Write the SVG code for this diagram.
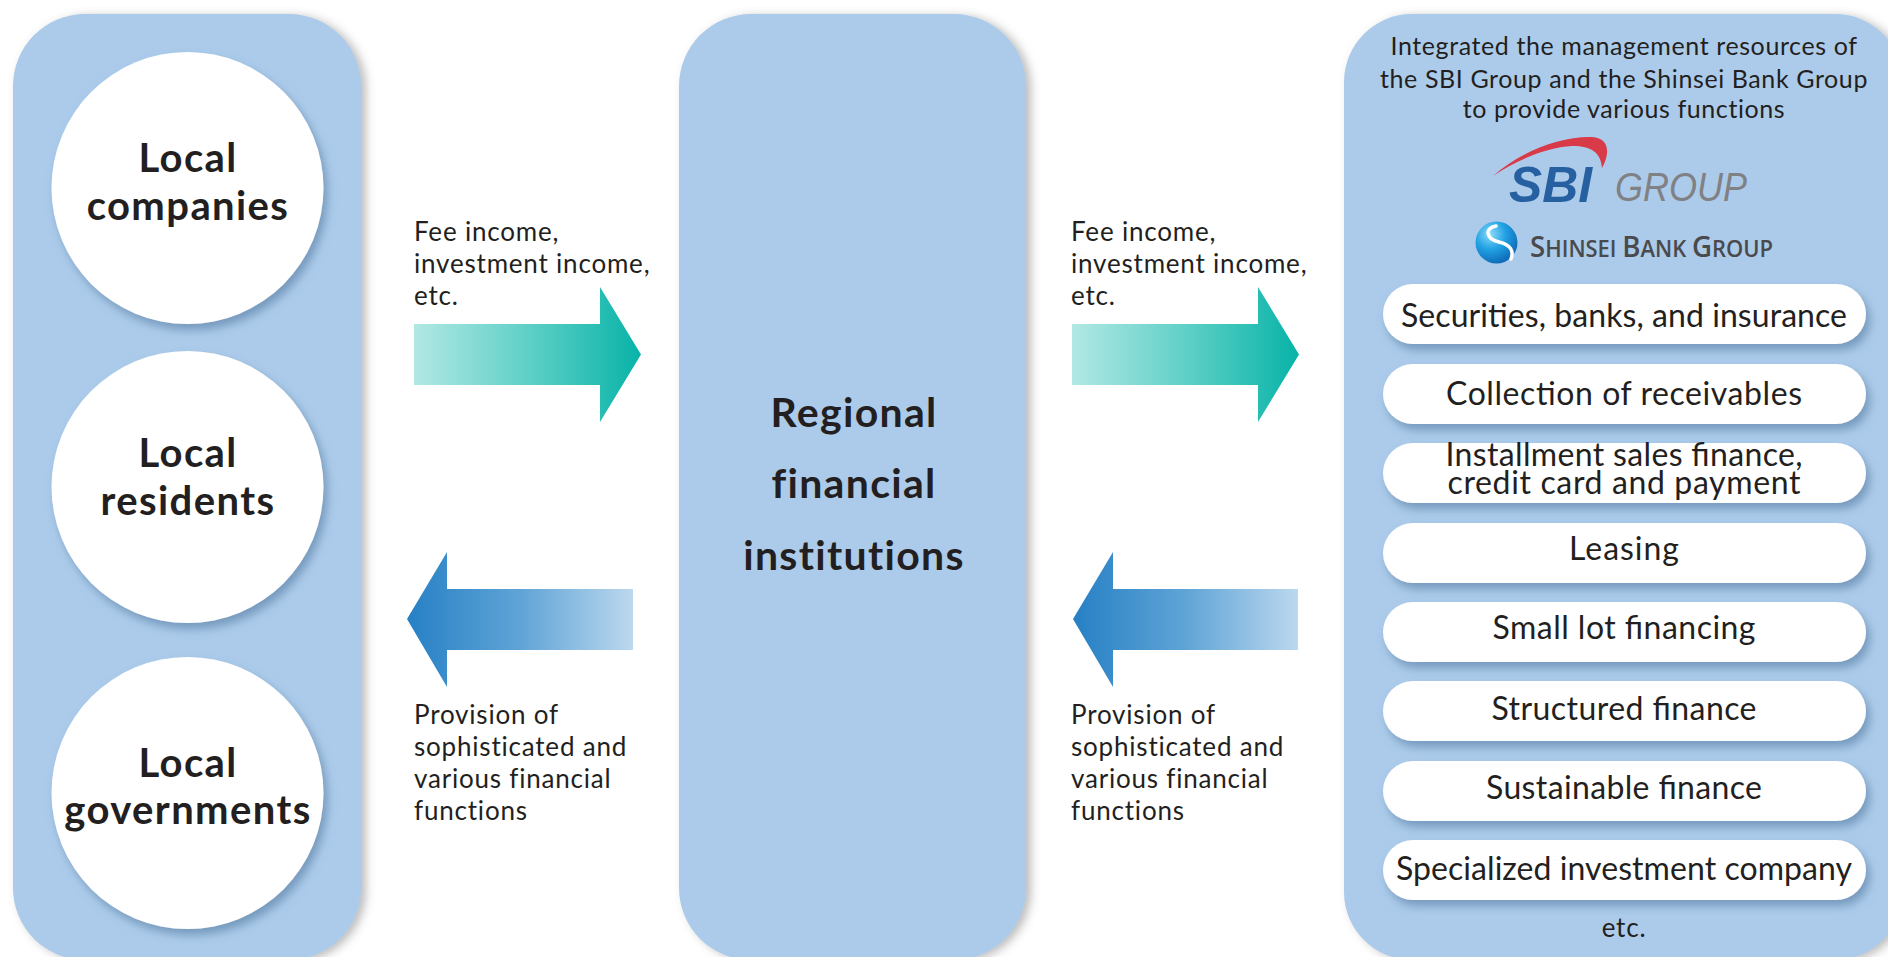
<svg xmlns="http://www.w3.org/2000/svg" width="1888" height="957" viewBox="0 0 1888 957">
<style>
.panel{fill:#accbea;filter:url(#pshadow)}
.circ{fill:#ffffff;filter:url(#cshadow)}
.pill{fill:#ffffff;filter:url(#cshadow)}
.big{font-family:Lato,"Noto Sans","Liberation Sans",sans-serif;font-weight:700;font-size:40px;letter-spacing:1.4px;fill:#231f20;text-anchor:middle}
.mid{font-family:Lato,"Noto Sans","Liberation Sans",sans-serif;font-weight:700;font-size:41px;letter-spacing:1.3px;fill:#231f20;text-anchor:middle}
.lbl{font-family:Lato,"Noto Sans","Liberation Sans",sans-serif;font-size:26px;letter-spacing:0.8px;fill:#231f20}
.hdr{font-family:Lato,"Noto Sans","Liberation Sans",sans-serif;font-size:25px;letter-spacing:0.6px;fill:#231f20;text-anchor:middle}
.pt{font-family:Lato,"Noto Sans","Liberation Sans",sans-serif;font-size:32px;fill:#231f20;text-anchor:middle}
</style>
<defs>
<filter id="pshadow" x="-10%" y="-5%" width="125%" height="115%">
<feDropShadow dx="5" dy="2" stdDeviation="5" flood-color="#6b6b6b" flood-opacity="0.45"/>
</filter>
<filter id="cshadow" x="-15%" y="-15%" width="135%" height="140%">
<feDropShadow dx="4" dy="6" stdDeviation="5" flood-color="#4a6f98" flood-opacity="0.55"/>
</filter>
<linearGradient id="teal" x1="0" y1="0" x2="1" y2="0">
<stop offset="0" stop-color="#b2e8e4"/>
<stop offset="0.5" stop-color="#5fd0c7"/>
<stop offset="1" stop-color="#08b3a8"/>
</linearGradient>
<linearGradient id="blue" x1="0" y1="0" x2="1" y2="0">
<stop offset="0" stop-color="#2680c5"/>
<stop offset="0.5" stop-color="#5fa4d6"/>
<stop offset="1" stop-color="#bcd8ee"/>
</linearGradient>
<radialGradient id="sphere" cx="0.35" cy="0.3" r="0.8">
<stop offset="0" stop-color="#8fdaf9"/>
<stop offset="0.45" stop-color="#22a2e4"/>
<stop offset="1" stop-color="#0a5fae"/>
</radialGradient>
</defs>

<g id="panel-left">
<rect class="panel" x="13" y="14" width="348" height="946" rx="72" ry="72"/>
</g>
<g id="panel-center">
<rect class="panel" x="679" y="14" width="347" height="946" rx="72" ry="72"/>
</g>
<g id="panel-right">
<rect class="panel" x="1344" y="14" width="559" height="946" rx="68" ry="68"/>
</g>

<g id="node-local-companies">
<circle class="circ" cx="187.5" cy="188" r="136"/>
<text class="big" x="188" y="172">Local</text>
<text class="big" x="188" y="220">companies</text>
</g>
<g id="node-local-residents">
<circle class="circ" cx="187.5" cy="487" r="136"/>
<text class="big" x="188" y="467">Local</text>
<text class="big" x="188" y="515">residents</text>
</g>
<g id="node-local-governments">
<circle class="circ" cx="187.5" cy="793" r="136"/>
<text class="big" x="188" y="777">Local</text>
<text class="big" x="188" y="824">governments</text>
</g>

<g id="node-regional">
<text class="mid" x="854" y="427">Regional</text>
<text class="mid" x="854" y="498">financial</text>
<text class="mid" x="854" y="570">institutions</text>
</g>

<g id="connectors">
<path d="M414,324 H600 V287 L641,354.5 L600,422 V385 H414 Z" fill="url(#teal)"/>
<path d="M1072,324 H1258 V287 L1299,354.5 L1258,422 V385 H1072 Z" fill="url(#teal)"/>
<path d="M407,619 L447,552 V589 H633 V650 H447 V687 Z" fill="url(#blue)"/>
<path d="M1073,619 L1113,552 V589 H1298 V650 H1113 V687 Z" fill="url(#blue)"/>
<g id="label-fee-1">
<text class="lbl" x="414" y="241">Fee income,</text>
<text class="lbl" x="414" y="273">investment income,</text>
<text class="lbl" x="414" y="305">etc.</text>
</g>
<g id="label-fee-2">
<text class="lbl" x="1071" y="241">Fee income,</text>
<text class="lbl" x="1071" y="273">investment income,</text>
<text class="lbl" x="1071" y="305">etc.</text>
</g>
<g id="label-prov-1">
<text class="lbl" x="414" y="724">Provision of</text>
<text class="lbl" x="414" y="756">sophisticated and</text>
<text class="lbl" x="414" y="788">various financial</text>
<text class="lbl" x="414" y="820">functions</text>
</g>
<g id="label-prov-2">
<text class="lbl" x="1071" y="724">Provision of</text>
<text class="lbl" x="1071" y="756">sophisticated and</text>
<text class="lbl" x="1071" y="788">various financial</text>
<text class="lbl" x="1071" y="820">functions</text>
</g>
</g>

<g id="header">
<text class="hdr" x="1624" y="55">Integrated the management resources of</text>
<text class="hdr" x="1624" y="88">the SBI Group and the Shinsei Bank Group</text>
<text class="hdr" x="1624" y="118">to provide various functions</text>
</g>

<g id="logo-sbi">
<path d="M1493,176 C1520,152 1560,136 1592,137 C1610,138 1610,154 1602,168 C1601,153 1592,146 1572,146 C1547,147 1517,160 1493,176 Z" fill="#d93a48"/>
<text x="1509" y="202" font-family="'Liberation Sans',Arial,sans-serif" font-weight="700" font-style="italic" font-size="50" fill="#2760a0" textLength="83" lengthAdjust="spacingAndGlyphs">SBI</text>
<text x="1615" y="201" font-family="'Liberation Sans',Arial,sans-serif" font-style="italic" font-size="40" fill="#7f8184" textLength="132" lengthAdjust="spacingAndGlyphs">GROUP</text>
</g>

<g id="logo-shinsei">
<circle cx="1496.5" cy="242.5" r="21" fill="url(#sphere)"/>
<path d="M1496,226 C1484,228 1486,239 1499,242 C1511,245 1514,251 1511,259" fill="none" stroke="#ffffff" stroke-width="3.5" stroke-linecap="round"/>
<text x="1530" y="257" font-family="'Open Sans','Noto Sans',sans-serif" font-weight="600" fill="#4a4a4c" textLength="243" lengthAdjust="spacingAndGlyphs"><tspan font-size="29">S</tspan><tspan font-size="23">HINSEI </tspan><tspan font-size="29">B</tspan><tspan font-size="23">ANK </tspan><tspan font-size="29">G</tspan><tspan font-size="23">ROUP</tspan></text>
</g>

<g id="pill-1">
<rect class="pill" x="1383" y="284" width="483" height="60" rx="30"/>
<text class="pt" x="1624" y="327" textLength="446" lengthAdjust="spacing">Securities, banks, and insurance</text>
</g>
<g id="pill-2">
<rect class="pill" x="1383" y="364" width="483" height="60" rx="30"/>
<text class="pt" x="1624" y="405" textLength="356" lengthAdjust="spacing">Collection of receivables</text>
</g>
<g id="pill-3">
<rect class="pill" x="1383" y="443" width="483" height="60" rx="30"/>
<text class="pt" x="1624" y="466" font-size="27" textLength="357" lengthAdjust="spacing">Installment sales finance,</text>
<text class="pt" x="1624" y="494" font-size="27" textLength="353" lengthAdjust="spacing">credit card and payment</text>
</g>
<g id="pill-4">
<rect class="pill" x="1383" y="523" width="483" height="60" rx="30"/>
<text class="pt" x="1624" y="560" textLength="110" lengthAdjust="spacing">Leasing</text>
</g>
<g id="pill-5">
<rect class="pill" x="1383" y="602" width="483" height="60" rx="30"/>
<text class="pt" x="1624" y="639" textLength="263" lengthAdjust="spacing">Small lot financing</text>
</g>
<g id="pill-6">
<rect class="pill" x="1383" y="681" width="483" height="60" rx="30"/>
<text class="pt" x="1624" y="720" textLength="265" lengthAdjust="spacing">Structured finance</text>
</g>
<g id="pill-7">
<rect class="pill" x="1383" y="761" width="483" height="60" rx="30"/>
<text class="pt" x="1624" y="799" textLength="276" lengthAdjust="spacing">Sustainable finance</text>
</g>
<g id="pill-8">
<rect class="pill" x="1383" y="840" width="483" height="60" rx="30"/>
<text class="pt" x="1624" y="880" textLength="456" lengthAdjust="spacing">Specialized investment company</text>
</g>
<g id="etc">
<text class="lbl" x="1624" y="937" text-anchor="middle">etc.</text>
</g>
</svg>
